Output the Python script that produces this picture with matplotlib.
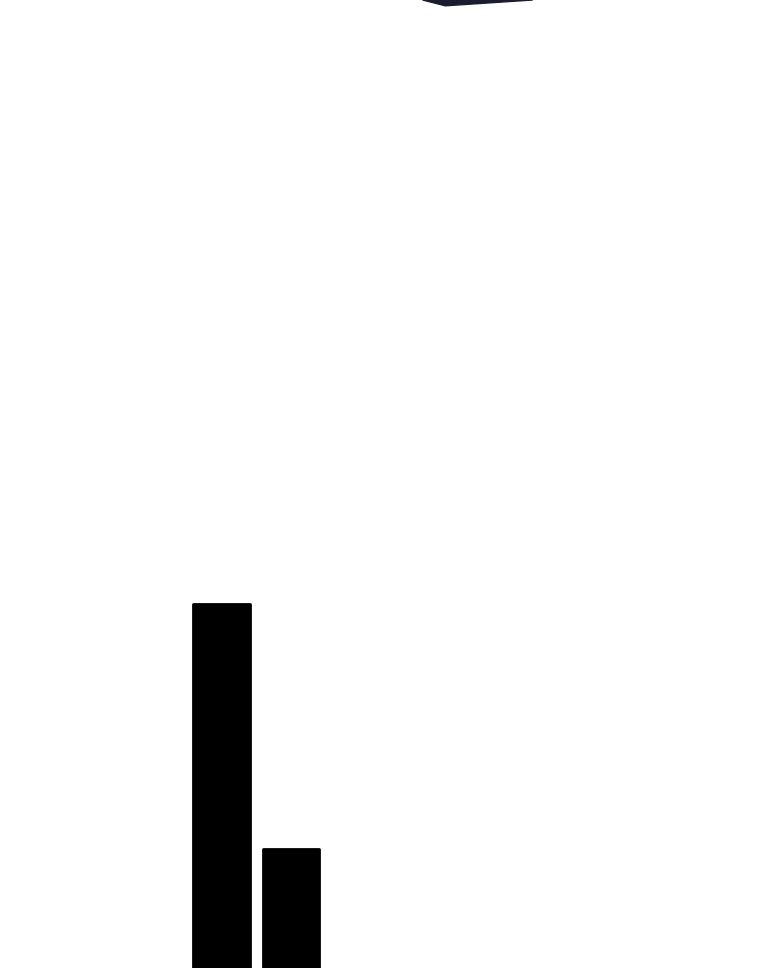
import numpy as np
import matplotlib
matplotlib.use('Agg')
import matplotlib.pyplot as plt

# bar data (only the tops of two bars are visible in this crop)
categories = ['A', 'B']
values = [100, 40]

# dark shape peeking in at the top edge, in axes fractions
shape_x = [0.556, 0.701, 0.701, 0.586]
shape_y = [1.0, 1.0, 1.0, 0.994]

fig = plt.figure(figsize=(7.6, 9.68), dpi=100)
ax = fig.add_axes([0, 0, 1, 1])

x = np.arange(len(categories))
# a thick edge with round joins gives the slightly rounded top corners
bars = ax.bar(x, values, width=0.82, color='black', edgecolor='black', linewidth=2.0)
for b in bars:
    b.set_joinstyle('round')

# scale picked so the bases run off the bottom of the picture
ax.set_xlim(-3.187, 7.748)
ax.set_ylim(10.95, 247.55)

ax.fill(shape_x, shape_y, color='#1c1c30', transform=ax.transAxes, clip_on=False)

ax.axis('off')
fig.savefig('out.png', dpi=100, facecolor='white')
